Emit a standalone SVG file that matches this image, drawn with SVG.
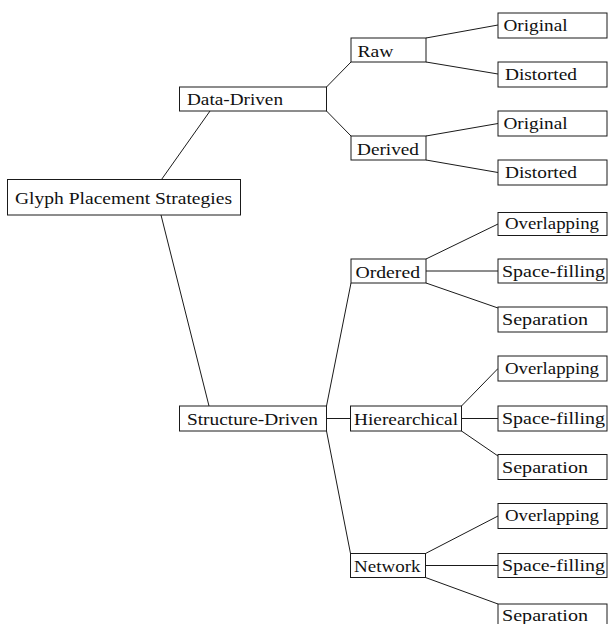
<svg xmlns="http://www.w3.org/2000/svg" width="608" height="624" viewBox="0 0 608 624">
<style>
rect{fill:#fff;stroke:#1a1a1a;stroke-width:1}
text{font-family:"Liberation Serif","Times New Roman",serif;font-size:17.5px;fill:#111}
#connectors line{stroke:#1a1a1a;stroke-width:1}
</style>
<rect x="0" y="0" width="608" height="624" style="stroke:none"/>
<g id="connectors">
<line x1="161.5" y1="179.5" x2="210" y2="111"/>
<line x1="161" y1="215" x2="209" y2="406"/>
<line x1="326.5" y1="87" x2="351" y2="62"/>
<line x1="326.5" y1="111" x2="351" y2="136"/>
<line x1="426" y1="38" x2="498" y2="25"/>
<line x1="426" y1="62" x2="498" y2="74"/>
<line x1="426" y1="136" x2="498" y2="123.5"/>
<line x1="426" y1="160" x2="498" y2="172.5"/>
<line x1="326.5" y1="406" x2="351" y2="283"/>
<line x1="326.5" y1="418.5" x2="350.5" y2="418.5"/>
<line x1="326.5" y1="431" x2="350.5" y2="553.5"/>
<line x1="426" y1="259" x2="498" y2="224"/>
<line x1="426" y1="271" x2="498" y2="271"/>
<line x1="426" y1="283" x2="498" y2="308"/>
<line x1="461.5" y1="406" x2="498" y2="368.5"/>
<line x1="461.5" y1="418.5" x2="498" y2="418.5"/>
<line x1="461.5" y1="431" x2="498" y2="456"/>
<line x1="425.5" y1="553.5" x2="498" y2="516"/>
<line x1="425.5" y1="565.5" x2="498" y2="565.5"/>
<line x1="425.5" y1="577.5" x2="498" y2="604"/>
</g>
<g id="root"><rect x="7.5" y="179.5" width="233" height="35.5"/><text x="15" y="204" textLength="217" lengthAdjust="spacingAndGlyphs">Glyph Placement Strategies</text></g>
<g id="data-driven"><rect x="179.5" y="87" width="147" height="24"/><text x="187" y="105" textLength="96" lengthAdjust="spacingAndGlyphs">Data-Driven</text></g>
<g id="structure-driven"><rect x="179.5" y="406" width="147" height="25"/><text x="187" y="424.5" textLength="131" lengthAdjust="spacingAndGlyphs">Structure-Driven</text></g>
<g id="raw"><rect x="351" y="38" width="75" height="24"/><text x="357.5" y="56.5" textLength="36" lengthAdjust="spacingAndGlyphs">Raw</text></g>
<g id="derived"><rect x="351" y="136" width="75" height="24"/><text x="357" y="154.5" textLength="62" lengthAdjust="spacingAndGlyphs">Derived</text></g>
<g id="ordered"><rect x="351" y="259" width="75" height="24"/><text x="355.5" y="277.5" textLength="64.5" lengthAdjust="spacingAndGlyphs">Ordered</text></g>
<g id="hierarchical"><rect x="350.5" y="406" width="111" height="25"/><text x="354" y="424.5" textLength="104" lengthAdjust="spacingAndGlyphs">Hierearchical</text></g>
<g id="network"><rect x="350.5" y="553.5" width="75" height="24"/><text x="354" y="572" textLength="66.5" lengthAdjust="spacingAndGlyphs">Network</text></g>
<g id="raw-original"><rect x="498" y="13" width="109" height="25"/><text x="503.5" y="31" textLength="64" lengthAdjust="spacingAndGlyphs">Original</text></g>
<g id="raw-distorted"><rect x="498" y="62" width="109" height="25"/><text x="505" y="80" textLength="72" lengthAdjust="spacingAndGlyphs">Distorted</text></g>
<g id="derived-original"><rect x="498" y="111" width="109" height="25"/><text x="503.5" y="129.3" textLength="64" lengthAdjust="spacingAndGlyphs">Original</text></g>
<g id="derived-distorted"><rect x="498" y="160" width="109" height="25"/><text x="505" y="178.3" textLength="72" lengthAdjust="spacingAndGlyphs">Distorted</text></g>
<g id="ordered-overlapping"><rect x="498" y="212.5" width="109" height="23"/><text x="505" y="229" textLength="94" lengthAdjust="spacingAndGlyphs">Overlapping</text></g>
<g id="ordered-spacefilling"><rect x="498" y="259" width="109" height="24"/><text x="502" y="276.5" textLength="103" lengthAdjust="spacingAndGlyphs">Space-filling</text></g>
<g id="ordered-separation"><rect x="498" y="307" width="109" height="25"/><text x="502" y="325" textLength="86" lengthAdjust="spacingAndGlyphs">Separation</text></g>
<g id="hier-overlapping"><rect x="498" y="356" width="109" height="25"/><text x="505" y="373.5" textLength="94" lengthAdjust="spacingAndGlyphs">Overlapping</text></g>
<g id="hier-spacefilling"><rect x="498" y="406" width="109" height="25"/><text x="502" y="424" textLength="103" lengthAdjust="spacingAndGlyphs">Space-filling</text></g>
<g id="hier-separation"><rect x="498" y="454.5" width="109" height="25"/><text x="502" y="472.5" textLength="86" lengthAdjust="spacingAndGlyphs">Separation</text></g>
<g id="net-overlapping"><rect x="498" y="503.5" width="109" height="25"/><text x="505" y="521" textLength="94" lengthAdjust="spacingAndGlyphs">Overlapping</text></g>
<g id="net-spacefilling"><rect x="498" y="553.5" width="109" height="24"/><text x="502" y="571" textLength="103" lengthAdjust="spacingAndGlyphs">Space-filling</text></g>
<g id="net-separation"><rect x="498" y="604" width="109" height="25"/><text x="502" y="621" textLength="86" lengthAdjust="spacingAndGlyphs">Separation</text></g>
</svg>
